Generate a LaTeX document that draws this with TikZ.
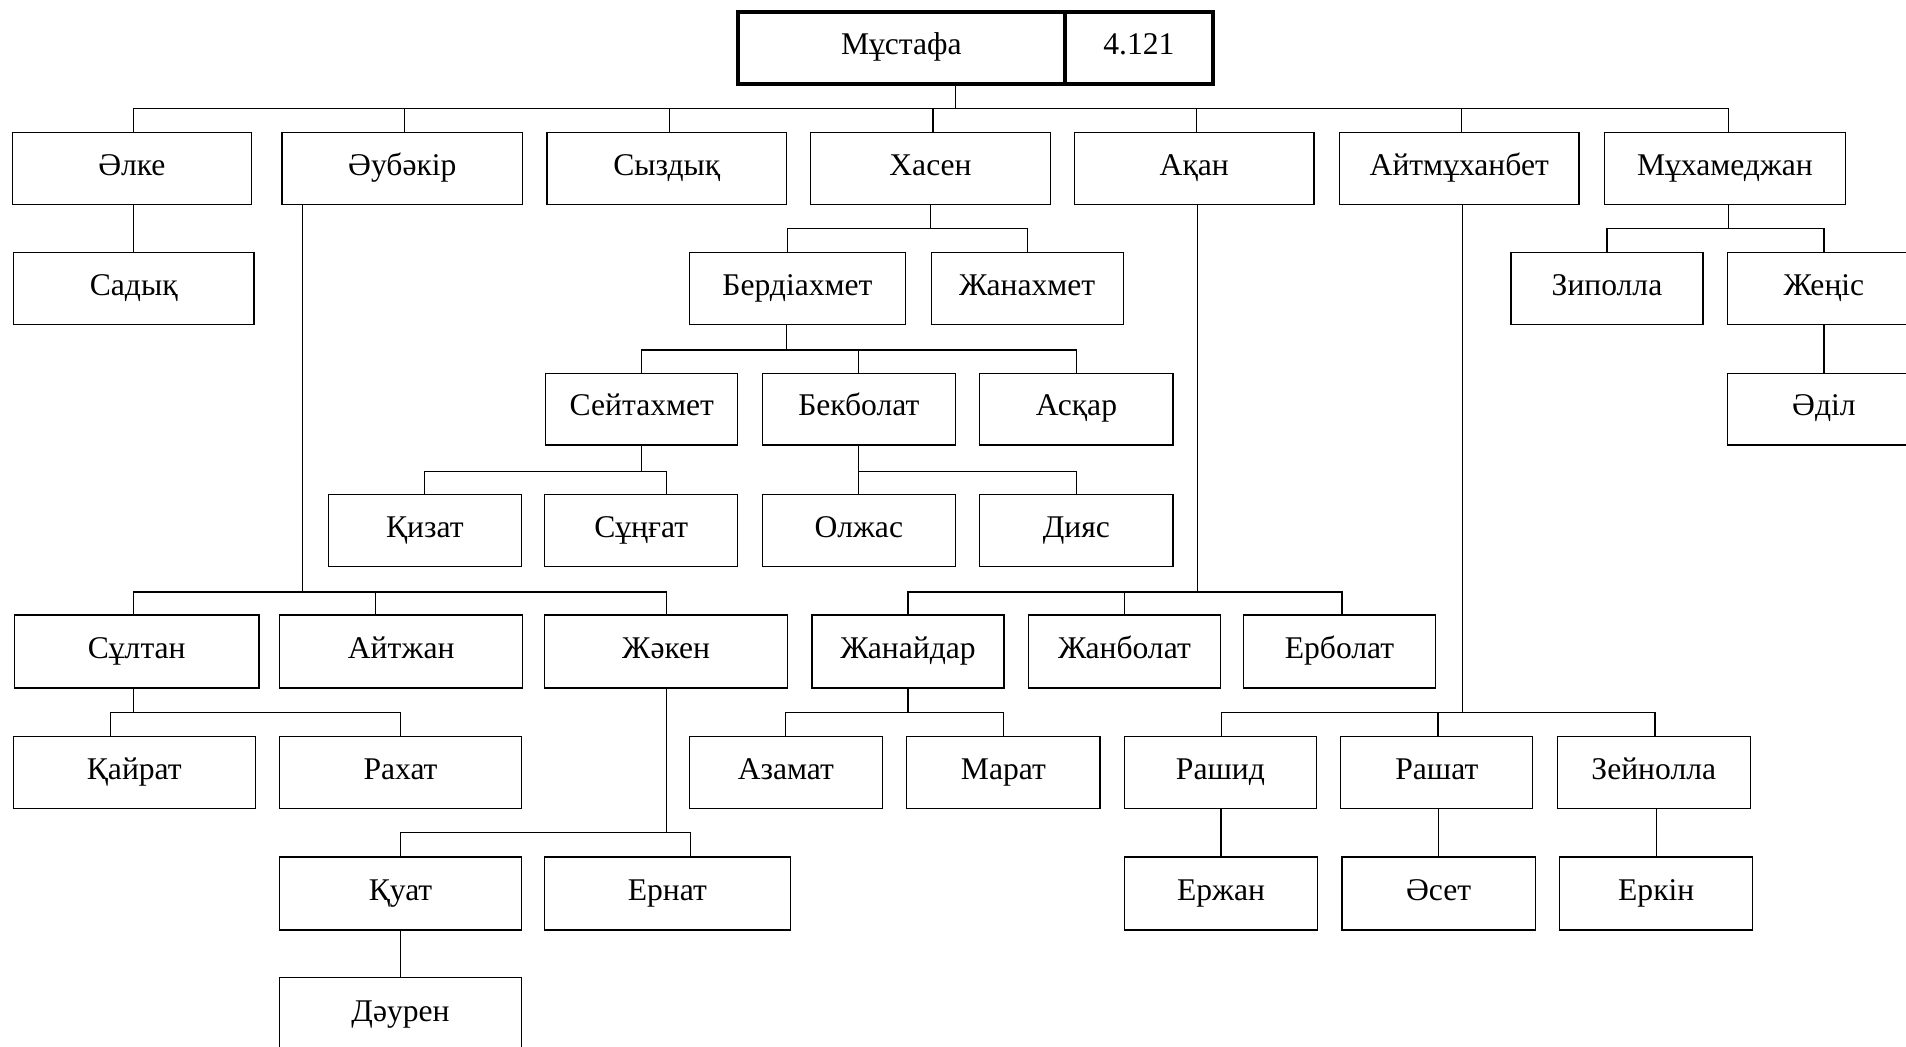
\documentclass[tikz,border=0pt]{standalone}
\usepackage{fontspec}
\setmainfont{Liberation Serif}
\begin{document}
\begin{tikzpicture}[x=0.5pt,y=-0.5pt,
  box/.style={draw, line width=0.5pt, inner sep=0pt, outer sep=0pt, text height=5.6pt, text depth=0pt, font=\fontsize{13}{15}\selectfont},
  rootbox/.style={box, line width=1.4pt},
  conn/.style={line width=0.5pt}]
\useasboundingbox (0,0) rectangle (1568,861);
\clip (0,0) rectangle (1568,861);
\newcommand\bx[7][box]{\node[#1, minimum width={(#5-#3)*0.5pt}, minimum height={(#6-#4)*0.5pt}] (#2) at ({(#3+#5)/2},{(#4+#6)/2}) {#7};}
% root
\bx[rootbox]{rootA}{607}{10}{876}{69}{Мұстафа}
\bx[rootbox]{rootB}{876}{10}{998}{69}{4.121}
% level 1
\bx{alke}{10}{109}{207}{168}{Әлке}
\bx{aub}{232}{109}{430}{168}{Әубәкір}
\bx{syz}{450}{109}{647}{168}{Сыздық}
\bx{has}{667}{109}{864}{168}{Хасен}
\bx{akan}{884}{109}{1081}{168}{Ақан}
\bx{aitm}{1102}{109}{1299}{168}{Айтмұханбет}
\bx{muh}{1320}{109}{1518}{168}{Мұхамеджан}
% level 2
\bx{sad}{11}{208}{209}{267}{Садық}
\bx{berd}{567}{208}{745}{267}{Бердіахмет}
\bx{zhanah}{766}{208}{924}{267}{Жанахмет}
\bx{zip}{1243}{208}{1401}{267}{Зиполла}
\bx{zhen}{1421}{208}{1580}{267}{Жеңіс}
% level 3
\bx{seit}{449}{307}{607}{366}{Сейтахмет}
\bx{bek}{627}{307}{786}{366}{Бекболат}
\bx{askar}{806}{307}{965}{366}{Асқар}
\bx{adil}{1421}{307}{1580}{366}{Әділ}
% level 4
\bx{kiz}{270}{407}{429}{466}{Қизат}
\bx{sung}{448}{407}{607}{466}{Сұңғат}
\bx{olzh}{627}{407}{786}{466}{Олжас}
\bx{diyas}{806}{407}{965}{466}{Дияс}
% level 5
\bx{sult}{12}{506}{213}{566}{Сұлтан}
\bx{aitzh}{230}{506}{430}{566}{Айтжан}
\bx{zhak}{448}{506}{648}{566}{Жәкен}
\bx{zhanai}{668}{506}{826}{566}{Жанайдар}
\bx{zhanb}{846}{506}{1004}{566}{Жанболат}
\bx{erb}{1023}{506}{1181}{566}{Ерболат}
% level 6
\bx{kair}{11}{606}{210}{665}{Қайрат}
\bx{rah}{230}{606}{429}{665}{Рахат}
\bx{azam}{567}{606}{726}{665}{Азамат}
\bx{marat}{746}{606}{905}{665}{Марат}
\bx{rash}{925}{606}{1083}{665}{Рашид}
\bx{rasht}{1103}{606}{1261}{665}{Рашат}
\bx{zein}{1281}{606}{1440}{665}{Зейнолла}
% level 7
\bx{kuat}{230}{705}{429}{765}{Қуат}
\bx{ernat}{448}{705}{650}{765}{Ернат}
\bx{erzh}{925}{705}{1084}{765}{Ержан}
\bx{aset}{1104}{705}{1263}{765}{Әсет}
\bx{erkin}{1283}{705}{1442}{765}{Еркін}
% level 8
\bx{daur}{230}{804}{429}{866}{Дәурен}
% bus coordinates
\coordinate (b1) at (0,89);
\coordinate (b2) at (0,188);
\coordinate (b3) at (0,288);
\coordinate (b4) at (0,388);
\coordinate (b5) at (0,487);
\coordinate (b6) at (0,586);
\coordinate (b7) at (0,685);
% root to level 1
\draw[conn] ([xshift=22.25pt]rootA.south) -- ([xshift=22.25pt]rootA.south |- b1);
\draw[conn] ([xshift=0.75pt]alke.north) -- ([xshift=0.75pt]alke.north |- b1) -- ([xshift=1.5pt]muh.north |- b1) -- ([xshift=1.5pt]muh.north);
\foreach \n in {aub,syz,has,akan,aitm} \draw[conn] ([xshift=1pt]\n.north) -- ([xshift=1pt]\n.north |- b1);
% Әлке
\draw[conn] (sad.north) -- (sad.north |- alke.south);
% Хасен
\draw[conn] (has.south) -- (has.south |- b2);
\draw[conn] ([xshift=-4pt]berd.north) -- ([xshift=-4pt]berd.north |- b2) -- (zhanah.north |- b2) -- (zhanah.north);
% Мұхамеджан
\draw[conn] ([xshift=1.5pt]muh.south) -- ([xshift=1.5pt]muh.south |- b2);
\draw[conn] (zip.north) -- (zip.north |- b2) -- (zhen.north |- b2) -- (zhen.north);
\draw[conn] (adil.north) -- (zhen.south);
% Бердіахмет
\draw[conn] ([xshift=-4.5pt]berd.south) -- ([xshift=-4.5pt]berd.south |- b3);
\draw[conn] (seit.north) -- (seit.north |- b3) -- (askar.north |- b3) -- (askar.north);
\draw[conn] (bek.north) -- (bek.north |- b3);
% Сейтахмет
\draw[conn] (seit.south) -- (seit.south |- b4);
\draw[conn] (kiz.north) -- (kiz.north |- b4) -- ([xshift=10.25pt]sung.north |- b4) -- ([xshift=10.25pt]sung.north);
% Бекболат
\draw[conn] (bek.south) -- (bek.south |- b4);
\draw[conn] (olzh.north) -- (olzh.north |- b4) -- (diyas.north |- b4) -- (diyas.north);
% Әубәкір
\draw[conn] ([xshift=-41pt]aub.south) -- ([xshift=-41pt]aub.south |- b5);
\draw[conn] ([xshift=-1.25pt]sult.north) -- ([xshift=-1.25pt]sult.north |- b5) -- (zhak.north |- b5) -- (zhak.north);
\draw[conn] ([xshift=-10.5pt]aitzh.north) -- ([xshift=-10.5pt]aitzh.north |- b5);
% Ақан
\draw[conn] ([xshift=1.25pt]akan.south) -- ([xshift=1.25pt]akan.south |- b5);
\draw[conn] (zhanai.north) -- (zhanai.north |- b5) -- ([xshift=1pt]erb.north |- b5) -- ([xshift=1pt]erb.north);
\draw[conn] (zhanb.north) -- (zhanb.north |- b5);
% Сұлтан
\draw[conn] ([xshift=-1.25pt]sult.south) -- ([xshift=-1.25pt]sult.south |- b6);
\draw[conn] ([xshift=-9.75pt]kair.north) -- ([xshift=-9.75pt]kair.north |- b6) -- (rah.north |- b6) -- (rah.north);
% Жанайдар
\draw[conn] (zhanai.south) -- (zhanai.south |- b6);
\draw[conn] (azam.north) -- (azam.north |- b6) -- (marat.north |- b6) -- (marat.north);
% Айтмұханбет
\draw[conn] ([xshift=1.25pt]aitm.south) -- ([xshift=1.25pt]aitm.south |- b6);
\draw[conn] ([xshift=0.5pt]rash.north) -- ([xshift=0.5pt]rash.north |- b6) -- ([xshift=0.5pt]zein.north |- b6) -- ([xshift=0.5pt]zein.north);
\draw[conn] ([xshift=0.5pt]rasht.north) -- ([xshift=0.5pt]rasht.north |- b6);
\draw[conn] (erzh.north) -- (erzh.north |- rash.south);
\draw[conn] (aset.north) -- (aset.north |- rasht.south);
\draw[conn] (erkin.north) -- (erkin.north |- zein.south);
% Жәкен
\draw[conn] (zhak.south) -- (zhak.south |- b7);
\draw[conn] (kuat.north) -- (kuat.north |- b7) -- ([xshift=9.5pt]ernat.north |- b7) -- ([xshift=9.5pt]ernat.north);
% Қуат
\draw[conn] (daur.north) -- (kuat.south);
\end{tikzpicture}
\end{document}
